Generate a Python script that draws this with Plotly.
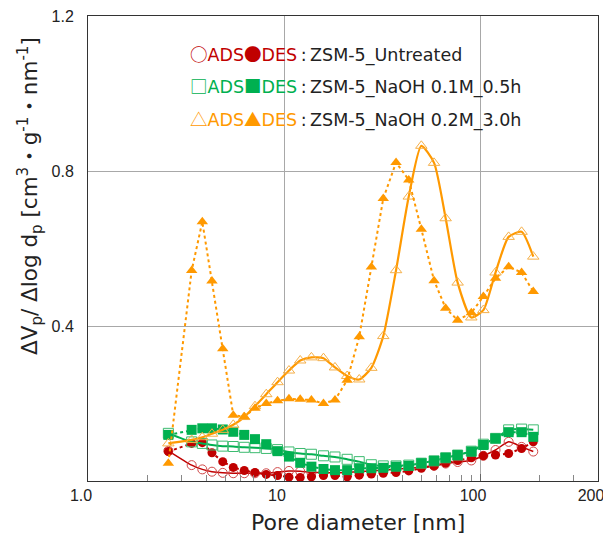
import math
import plotly.graph_objects as go

# Pore diameter [nm]
pore_diameter = [2.57, 3.38, 3.83, 4.29, 4.87, 5.51, 6.27, 7.11, 8.12, 9.27,
                 10.6, 12.1, 13.8, 15.9, 18.2, 21.0, 24.2, 27.9, 32.1, 37.3,
                 43.3, 50.2, 58.3, 66.8, 76.9, 90.3, 104, 120, 140, 163, 187]

untreated_ads = [0.078, 0.041, 0.030, 0.024, 0.021, 0.020, 0.020, 0.020, 0.020, 0.023,
                 0.026, 0.025, 0.022, 0.022, 0.021, 0.022, 0.024, 0.026, 0.028, 0.030,
                 0.033, 0.036, 0.039, 0.045, 0.049, 0.053, 0.065, 0.080, 0.101, 0.088, 0.076]
untreated_des = [0.076, 0.097, 0.099, 0.073, 0.050, 0.035, 0.027, 0.022, 0.017, 0.014,
                 0.010, 0.009, 0.011, 0.014, 0.014, 0.011, 0.015, 0.018, 0.020, 0.022,
                 0.026, 0.033, 0.039, 0.046, 0.053, 0.060, 0.065, 0.067, 0.071, 0.084, 0.101]

naoh01_ads = [0.123, 0.101, 0.097, 0.093, 0.090, 0.089, 0.087, 0.086, 0.084, 0.081,
              0.075, 0.071, 0.069, 0.065, 0.062, 0.056, 0.050, 0.042, 0.039, 0.039,
              0.041, 0.046, 0.052, 0.060, 0.067, 0.077, 0.095, 0.110, 0.132, 0.134, 0.132]
naoh01_des = [0.119, 0.132, 0.136, 0.136, 0.133, 0.127, 0.119, 0.108, 0.095, 0.077,
              0.063, 0.047, 0.037, 0.031, 0.028, 0.028, 0.033, 0.033, 0.034, 0.037,
              0.039, 0.046, 0.052, 0.060, 0.067, 0.076, 0.093, 0.110, 0.126, 0.126, 0.114]

naoh02_ads = [0.097, 0.106, 0.113, 0.122, 0.132, 0.145, 0.165, 0.193, 0.224, 0.255,
              0.285, 0.311, 0.319, 0.317, 0.293, 0.271, 0.262, 0.292, 0.374, 0.544,
              0.734, 0.865, 0.821, 0.678, 0.512, 0.422, 0.441, 0.538, 0.630, 0.643, 0.579]
naoh02_des = [0.046, 0.543, 0.669, 0.516, 0.341, 0.170, 0.166, 0.188, 0.200, 0.207,
              0.212, 0.211, 0.209, 0.200, 0.209, 0.260, 0.372, 0.552, 0.729, 0.822,
              0.777, 0.650, 0.517, 0.446, 0.415, 0.434, 0.476, 0.523, 0.553, 0.538, 0.489]

x_tickvals = [1, 10, 100, 400]
x_ticktext = ["1.0", "10", "100", "200"]
y_tickvals = [0.4, 0.8, 1.2]
y_ticktext = ["0.4", "0.8", "1.2"]

RED = "#C00000"
GREEN = "#00B050"
ORANGE = "#FF9900"

series = [
    (untreated_ads, untreated_des, RED, "#D04848", "circle", 9, 1.5),
    (naoh01_ads, naoh01_des, GREEN, "#3DBB70", "square", 10, 2),
    (naoh02_ads, naoh02_des, ORANGE, "#F5B04A", "triangle-up", 10, 2.2),
]

fig = go.Figure()
for ads, des, col, opencol, sym, size, lw in series:
    fig.add_trace(go.Scatter(
        x=pore_diameter, y=ads, mode="lines+markers",
        line=dict(color=col, width=lw, shape="spline", smoothing=0.6),
        marker=dict(symbol=sym + "-open", size=size, color=opencol,
                    line=dict(color=opencol, width=1)),
        showlegend=False))
    fig.add_trace(go.Scatter(
        x=pore_diameter, y=des, mode="lines+markers",
        line=dict(color=col, width=2, dash="dot"),
        marker=dict(symbol=sym, size=size, color=col),
        showlegend=False))

TXT = "DejaVu Sans, Noto Sans CJK JP"
TICK = "Liberation Sans, Arial"
CJK = "Noto Sans CJK JP"

fig.update_layout(
    width=603, height=534,
    margin=dict(l=88, r=5, t=16, b=53, autoexpand=False),
    paper_bgcolor="white", plot_bgcolor="white",
    font=dict(family=TXT, color="#222222"),
    xaxis=dict(type="log", range=[0, math.log10(400) + 1e-6], automargin=False,
               tickvals=x_tickvals, ticktext=x_ticktext,
               tickfont=dict(size=16, family=TICK, color="#222222"),
               ticklabelshift=-7, ticklabeloverflow="allow",
               ticks="inside", ticklen=7, tickcolor="#666666",
               showgrid=True, gridcolor="#A8A8A8", gridwidth=1,
               showline=True, linecolor="#333333", linewidth=1, mirror=True,
               minor=dict(tickvals=[2, 3, 4, 5, 6, 7, 8, 9,
                                    20, 30, 40, 50, 60, 70, 80, 90, 200, 300],
                          ticks="inside", ticklen=6, tickcolor="#888888",
                          showgrid=False),
               zeroline=False),
    yaxis=dict(range=[0, 1.2], automargin=False,
               tickvals=y_tickvals, ticktext=y_ticktext,
               tickfont=dict(size=16, family=TICK, color="#222222"),
               ticklabelstandoff=10,
               ticks="",
               showgrid=True, gridcolor="#A8A8A8", gridwidth=1,
               showline=True, linecolor="#333333", linewidth=1, mirror=True,
               zeroline=False),
)

# x axis title
fig.add_annotation(xref="x domain", yref="y domain",
                   x=(358 - 88) / 510, y=(481 - 522) / 465,
                   xanchor="center", yanchor="middle",
                   text="Pore diameter [nm]", showarrow=False,
                   font=dict(size=22, family=TXT, color="#222222"))

# y axis title
fig.add_annotation(xref="x domain", yref="y domain",
                   x=(30 - 88) / 510, y=(481 - 196) / 465,
                   xanchor="center", yanchor="middle",
                   text="ΔV<sub>p</sub>/ Δlog d<sub>p</sub> [cm<sup>3</sup>・g<sup>-1</sup>・nm<sup>-1</sup>]",
                   textangle=-90, showarrow=False,
                   font=dict(size=21.5, family=TXT, color="#222222"))

legend_lines = [
    ("○", "●", RED, "ZSM-5_Untreated", 54),
    ("□", "■", GREEN, "ZSM-5_NaOH 0.1M_0.5h", 86),
    ("△", "▲", ORANGE, "ZSM-5_NaOH 0.2M_3.0h", 118),
]
for s_open, s_fill, col, label, ypx in legend_lines:
    sym_style = f"color:{col};font-family:{CJK}"
    txt = (f"<span style='{sym_style}'>{s_open}</span>"
           f"<span style='color:{col}'>ADS</span>"
           f"<span style='{sym_style}'>{s_fill}</span>"
           f"<span style='color:{col}'>DES</span>"
           f"<span style='color:#222222'>\u2009:\u2009{label}</span>")
    fig.add_annotation(xref="x domain", yref="y domain",
                       x=(188 - 88) / 510, y=(481 - ypx) / 465,
                       xanchor="left", yanchor="middle",
                       text=txt, showarrow=False,
                       font=dict(size=17.5, family=TXT))

fig.write_html("out.html",
               config={"displayModeBar": False},
               post_script="document.body.style.margin='0';"
                           "document.body.style.overflow='hidden';")
